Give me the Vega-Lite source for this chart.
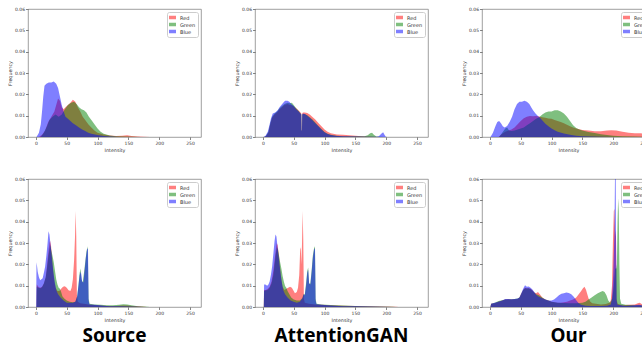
{
"$schema":"https://vega.github.io/schema/vega-lite/v6.json",
"background":"white",
"padding":{"left":6,"top":5,"right":0,"bottom":0},
"data":{"values":[
{"p":1,"c":"Red","x":5,"y":0},{"p":1,"c":"Red","x":10,"y":0.001},{"p":1,"c":"Red","x":15,"y":0.003},{"p":1,"c":"Red","x":20,"y":0.007},{"p":1,"c":"Red","x":25,"y":0.0095},{"p":1,"c":"Red","x":30,"y":0.012},{"p":1,"c":"Red","x":33,"y":0.015},{"p":1,"c":"Red","x":36,"y":0.018},{"p":1,"c":"Red","x":39,"y":0.017},{"p":1,"c":"Red","x":42,"y":0.014},{"p":1,"c":"Red","x":45,"y":0.013},{"p":1,"c":"Red","x":48,"y":0.014},{"p":1,"c":"Red","x":52,"y":0.015},{"p":1,"c":"Red","x":56,"y":0.016},{"p":1,"c":"Red","x":60,"y":0.0175},{"p":1,"c":"Red","x":64,"y":0.0165},{"p":1,"c":"Red","x":68,"y":0.014},{"p":1,"c":"Red","x":72,"y":0.012},{"p":1,"c":"Red","x":76,"y":0.0095},{"p":1,"c":"Red","x":80,"y":0.008},{"p":1,"c":"Red","x":85,"y":0.006},{"p":1,"c":"Red","x":90,"y":0.0045},{"p":1,"c":"Red","x":95,"y":0.003},{"p":1,"c":"Red","x":100,"y":0.002},{"p":1,"c":"Red","x":110,"y":0.0012},{"p":1,"c":"Red","x":120,"y":0.0007},{"p":1,"c":"Red","x":130,"y":0.0005},{"p":1,"c":"Red","x":140,"y":0.0006},{"p":1,"c":"Red","x":148,"y":0.0008},{"p":1,"c":"Red","x":155,"y":0.0005},{"p":1,"c":"Red","x":165,"y":0.0002},{"p":1,"c":"Red","x":175,"y":0.0001},{"p":1,"c":"Red","x":185,"y":0},
{"p":1,"c":"Green","x":8,"y":0},{"p":1,"c":"Green","x":13,"y":0.002},{"p":1,"c":"Green","x":18,"y":0.005},{"p":1,"c":"Green","x":22,"y":0.008},{"p":1,"c":"Green","x":27,"y":0.0095},{"p":1,"c":"Green","x":32,"y":0.0105},{"p":1,"c":"Green","x":37,"y":0.0095},{"p":1,"c":"Green","x":42,"y":0.0105},{"p":1,"c":"Green","x":47,"y":0.013},{"p":1,"c":"Green","x":52,"y":0.015},{"p":1,"c":"Green","x":57,"y":0.016},{"p":1,"c":"Green","x":62,"y":0.0165},{"p":1,"c":"Green","x":66,"y":0.0155},{"p":1,"c":"Green","x":70,"y":0.014},{"p":1,"c":"Green","x":74,"y":0.013},{"p":1,"c":"Green","x":78,"y":0.0125},{"p":1,"c":"Green","x":82,"y":0.0115},{"p":1,"c":"Green","x":86,"y":0.0095},{"p":1,"c":"Green","x":90,"y":0.008},{"p":1,"c":"Green","x":95,"y":0.006},{"p":1,"c":"Green","x":100,"y":0.004},{"p":1,"c":"Green","x":105,"y":0.0025},{"p":1,"c":"Green","x":110,"y":0.0015},{"p":1,"c":"Green","x":120,"y":0.0007},{"p":1,"c":"Green","x":130,"y":0.0004},{"p":1,"c":"Green","x":145,"y":0.0002},{"p":1,"c":"Green","x":160,"y":0.0001},{"p":1,"c":"Green","x":170,"y":0},
{"p":1,"c":"Blue","x":1,"y":0},{"p":1,"c":"Blue","x":5,"y":0.002},{"p":1,"c":"Blue","x":8,"y":0.006},{"p":1,"c":"Blue","x":10,"y":0.012},{"p":1,"c":"Blue","x":12,"y":0.019},{"p":1,"c":"Blue","x":14,"y":0.024},{"p":1,"c":"Blue","x":17,"y":0.025},{"p":1,"c":"Blue","x":21,"y":0.0255},{"p":1,"c":"Blue","x":25,"y":0.0255},{"p":1,"c":"Blue","x":29,"y":0.026},{"p":1,"c":"Blue","x":33,"y":0.025},{"p":1,"c":"Blue","x":36,"y":0.023},{"p":1,"c":"Blue","x":39,"y":0.019},{"p":1,"c":"Blue","x":42,"y":0.015},{"p":1,"c":"Blue","x":45,"y":0.012},{"p":1,"c":"Blue","x":48,"y":0.0095},{"p":1,"c":"Blue","x":52,"y":0.0085},{"p":1,"c":"Blue","x":56,"y":0.0075},{"p":1,"c":"Blue","x":60,"y":0.0065},{"p":1,"c":"Blue","x":65,"y":0.0055},{"p":1,"c":"Blue","x":70,"y":0.0045},{"p":1,"c":"Blue","x":75,"y":0.0035},{"p":1,"c":"Blue","x":80,"y":0.0028},{"p":1,"c":"Blue","x":85,"y":0.002},{"p":1,"c":"Blue","x":90,"y":0.0015},{"p":1,"c":"Blue","x":100,"y":0.0009},{"p":1,"c":"Blue","x":110,"y":0.0005},{"p":1,"c":"Blue","x":120,"y":0.0002},{"p":1,"c":"Blue","x":135,"y":0},
{"p":2,"c":"Red","x":2,"y":0},{"p":2,"c":"Red","x":5,"y":0.0004},{"p":2,"c":"Red","x":9,"y":0.002},{"p":2,"c":"Red","x":12,"y":0.006},{"p":2,"c":"Red","x":15,"y":0.009},{"p":2,"c":"Red","x":19,"y":0.0105},{"p":2,"c":"Red","x":23,"y":0.0115},{"p":2,"c":"Red","x":27,"y":0.013},{"p":2,"c":"Red","x":31,"y":0.014},{"p":2,"c":"Red","x":35,"y":0.015},{"p":2,"c":"Red","x":40,"y":0.0155},{"p":2,"c":"Red","x":44,"y":0.015},{"p":2,"c":"Red","x":48,"y":0.0148},{"p":2,"c":"Red","x":52,"y":0.014},{"p":2,"c":"Red","x":56,"y":0.013},{"p":2,"c":"Red","x":60,"y":0.0118},{"p":2,"c":"Red","x":62.4,"y":0.011},{"p":2,"c":"Red","x":62.8,"y":0.003},{"p":2,"c":"Red","x":63.4,"y":0.003},{"p":2,"c":"Red","x":63.8,"y":0.011},{"p":2,"c":"Red","x":65,"y":0.0115},{"p":2,"c":"Red","x":68,"y":0.0115},{"p":2,"c":"Red","x":72,"y":0.0112},{"p":2,"c":"Red","x":76,"y":0.0105},{"p":2,"c":"Red","x":80,"y":0.0095},{"p":2,"c":"Red","x":85,"y":0.0082},{"p":2,"c":"Red","x":90,"y":0.0066},{"p":2,"c":"Red","x":95,"y":0.005},{"p":2,"c":"Red","x":100,"y":0.0035},{"p":2,"c":"Red","x":105,"y":0.0025},{"p":2,"c":"Red","x":110,"y":0.0017},{"p":2,"c":"Red","x":120,"y":0.0012},{"p":2,"c":"Red","x":130,"y":0.001},{"p":2,"c":"Red","x":140,"y":0.0008},{"p":2,"c":"Red","x":150,"y":0.0006},{"p":2,"c":"Red","x":160,"y":0.0004},{"p":2,"c":"Red","x":170,"y":0.0002},{"p":2,"c":"Red","x":180,"y":0.0001},{"p":2,"c":"Red","x":190,"y":0},
{"p":2,"c":"Green","x":2,"y":0},{"p":2,"c":"Green","x":5,"y":0.0005},{"p":2,"c":"Green","x":9,"y":0.0025},{"p":2,"c":"Green","x":12,"y":0.0065},{"p":2,"c":"Green","x":15,"y":0.0095},{"p":2,"c":"Green","x":19,"y":0.011},{"p":2,"c":"Green","x":23,"y":0.012},{"p":2,"c":"Green","x":27,"y":0.0135},{"p":2,"c":"Green","x":31,"y":0.0145},{"p":2,"c":"Green","x":35,"y":0.0155},{"p":2,"c":"Green","x":40,"y":0.016},{"p":2,"c":"Green","x":44,"y":0.0158},{"p":2,"c":"Green","x":47,"y":0.016},{"p":2,"c":"Green","x":50,"y":0.015},{"p":2,"c":"Green","x":54,"y":0.0135},{"p":2,"c":"Green","x":58,"y":0.0122},{"p":2,"c":"Green","x":62.4,"y":0.0105},{"p":2,"c":"Green","x":62.8,"y":0.003},{"p":2,"c":"Green","x":63.4,"y":0.003},{"p":2,"c":"Green","x":63.8,"y":0.0105},{"p":2,"c":"Green","x":65,"y":0.0108},{"p":2,"c":"Green","x":68,"y":0.0108},{"p":2,"c":"Green","x":72,"y":0.0102},{"p":2,"c":"Green","x":76,"y":0.0093},{"p":2,"c":"Green","x":80,"y":0.0083},{"p":2,"c":"Green","x":85,"y":0.0068},{"p":2,"c":"Green","x":90,"y":0.0052},{"p":2,"c":"Green","x":95,"y":0.0037},{"p":2,"c":"Green","x":100,"y":0.0024},{"p":2,"c":"Green","x":105,"y":0.0015},{"p":2,"c":"Green","x":110,"y":0.001},{"p":2,"c":"Green","x":120,"y":0.0006},{"p":2,"c":"Green","x":130,"y":0.0004},{"p":2,"c":"Green","x":150,"y":0.0003},{"p":2,"c":"Green","x":165,"y":0.0003},{"p":2,"c":"Green","x":170,"y":0.0008},{"p":2,"c":"Green","x":174,"y":0.0018},{"p":2,"c":"Green","x":177,"y":0.002},{"p":2,"c":"Green","x":180,"y":0.001},{"p":2,"c":"Green","x":184,"y":0.0002},{"p":2,"c":"Green","x":190,"y":0.0001},{"p":2,"c":"Green","x":195,"y":0},
{"p":2,"c":"Blue","x":1,"y":0},{"p":2,"c":"Blue","x":4,"y":0.0005},{"p":2,"c":"Blue","x":8,"y":0.0025},{"p":2,"c":"Blue","x":11,"y":0.006},{"p":2,"c":"Blue","x":13,"y":0.0085},{"p":2,"c":"Blue","x":16,"y":0.011},{"p":2,"c":"Blue","x":20,"y":0.0115},{"p":2,"c":"Blue","x":24,"y":0.0125},{"p":2,"c":"Blue","x":27,"y":0.014},{"p":2,"c":"Blue","x":30,"y":0.015},{"p":2,"c":"Blue","x":33,"y":0.016},{"p":2,"c":"Blue","x":36,"y":0.017},{"p":2,"c":"Blue","x":40,"y":0.017},{"p":2,"c":"Blue","x":43,"y":0.0165},{"p":2,"c":"Blue","x":46,"y":0.0155},{"p":2,"c":"Blue","x":50,"y":0.0145},{"p":2,"c":"Blue","x":54,"y":0.013},{"p":2,"c":"Blue","x":58,"y":0.012},{"p":2,"c":"Blue","x":62.4,"y":0.0105},{"p":2,"c":"Blue","x":62.8,"y":0.003},{"p":2,"c":"Blue","x":63.4,"y":0.003},{"p":2,"c":"Blue","x":63.8,"y":0.0105},{"p":2,"c":"Blue","x":65,"y":0.011},{"p":2,"c":"Blue","x":68,"y":0.0108},{"p":2,"c":"Blue","x":72,"y":0.01},{"p":2,"c":"Blue","x":76,"y":0.009},{"p":2,"c":"Blue","x":80,"y":0.008},{"p":2,"c":"Blue","x":85,"y":0.0065},{"p":2,"c":"Blue","x":90,"y":0.005},{"p":2,"c":"Blue","x":95,"y":0.0035},{"p":2,"c":"Blue","x":100,"y":0.0022},{"p":2,"c":"Blue","x":105,"y":0.0014},{"p":2,"c":"Blue","x":110,"y":0.0009},{"p":2,"c":"Blue","x":120,"y":0.0005},{"p":2,"c":"Blue","x":130,"y":0.0003},{"p":2,"c":"Blue","x":150,"y":0.0002},{"p":2,"c":"Blue","x":170,"y":0.0001},{"p":2,"c":"Blue","x":185,"y":0.0001},{"p":2,"c":"Blue","x":188,"y":0.0004},{"p":2,"c":"Blue","x":192,"y":0.0015},{"p":2,"c":"Blue","x":195,"y":0.0022},{"p":2,"c":"Blue","x":197,"y":0.0012},{"p":2,"c":"Blue","x":199,"y":0.0002},{"p":2,"c":"Blue","x":201,"y":0},
{"p":3,"c":"Red","x":14,"y":0},{"p":3,"c":"Red","x":20,"y":0.0015},{"p":3,"c":"Red","x":25,"y":0.0025},{"p":3,"c":"Red","x":30,"y":0.003},{"p":3,"c":"Red","x":35,"y":0.0035},{"p":3,"c":"Red","x":40,"y":0.0045},{"p":3,"c":"Red","x":45,"y":0.006},{"p":3,"c":"Red","x":50,"y":0.0075},{"p":3,"c":"Red","x":55,"y":0.0088},{"p":3,"c":"Red","x":60,"y":0.0095},{"p":3,"c":"Red","x":65,"y":0.0098},{"p":3,"c":"Red","x":70,"y":0.0097},{"p":3,"c":"Red","x":75,"y":0.0098},{"p":3,"c":"Red","x":80,"y":0.0096},{"p":3,"c":"Red","x":85,"y":0.0093},{"p":3,"c":"Red","x":90,"y":0.009},{"p":3,"c":"Red","x":95,"y":0.0087},{"p":3,"c":"Red","x":100,"y":0.0085},{"p":3,"c":"Red","x":105,"y":0.008},{"p":3,"c":"Red","x":110,"y":0.0075},{"p":3,"c":"Red","x":115,"y":0.007},{"p":3,"c":"Red","x":120,"y":0.0064},{"p":3,"c":"Red","x":125,"y":0.0058},{"p":3,"c":"Red","x":130,"y":0.005},{"p":3,"c":"Red","x":135,"y":0.0044},{"p":3,"c":"Red","x":140,"y":0.004},{"p":3,"c":"Red","x":145,"y":0.0036},{"p":3,"c":"Red","x":150,"y":0.0033},{"p":3,"c":"Red","x":160,"y":0.003},{"p":3,"c":"Red","x":170,"y":0.0027},{"p":3,"c":"Red","x":180,"y":0.0027},{"p":3,"c":"Red","x":190,"y":0.003},{"p":3,"c":"Red","x":197,"y":0.0032},{"p":3,"c":"Red","x":205,"y":0.003},{"p":3,"c":"Red","x":215,"y":0.0025},{"p":3,"c":"Red","x":225,"y":0.002},{"p":3,"c":"Red","x":235,"y":0.0018},{"p":3,"c":"Red","x":245,"y":0.0017},{"p":3,"c":"Red","x":255,"y":0.0015},{"p":3,"c":"Red","x":256,"y":0},
{"p":3,"c":"Green","x":15,"y":0},{"p":3,"c":"Green","x":20,"y":0.002},{"p":3,"c":"Green","x":25,"y":0.004},{"p":3,"c":"Green","x":28,"y":0.0045},{"p":3,"c":"Green","x":31,"y":0.003},{"p":3,"c":"Green","x":35,"y":0.0028},{"p":3,"c":"Green","x":40,"y":0.003},{"p":3,"c":"Green","x":45,"y":0.0035},{"p":3,"c":"Green","x":50,"y":0.004},{"p":3,"c":"Green","x":55,"y":0.0045},{"p":3,"c":"Green","x":60,"y":0.0055},{"p":3,"c":"Green","x":65,"y":0.0065},{"p":3,"c":"Green","x":70,"y":0.0075},{"p":3,"c":"Green","x":75,"y":0.0085},{"p":3,"c":"Green","x":80,"y":0.0092},{"p":3,"c":"Green","x":85,"y":0.0105},{"p":3,"c":"Green","x":90,"y":0.0115},{"p":3,"c":"Green","x":95,"y":0.012},{"p":3,"c":"Green","x":100,"y":0.012},{"p":3,"c":"Green","x":105,"y":0.0125},{"p":3,"c":"Green","x":110,"y":0.0125},{"p":3,"c":"Green","x":115,"y":0.012},{"p":3,"c":"Green","x":120,"y":0.011},{"p":3,"c":"Green","x":125,"y":0.0095},{"p":3,"c":"Green","x":130,"y":0.0075},{"p":3,"c":"Green","x":135,"y":0.0055},{"p":3,"c":"Green","x":140,"y":0.0042},{"p":3,"c":"Green","x":145,"y":0.0035},{"p":3,"c":"Green","x":150,"y":0.003},{"p":3,"c":"Green","x":160,"y":0.0024},{"p":3,"c":"Green","x":170,"y":0.0019},{"p":3,"c":"Green","x":180,"y":0.0013},{"p":3,"c":"Green","x":190,"y":0.0009},{"p":3,"c":"Green","x":200,"y":0.0006},{"p":3,"c":"Green","x":215,"y":0.0004},{"p":3,"c":"Green","x":235,"y":0.0002},{"p":3,"c":"Green","x":255,"y":0.0001},{"p":3,"c":"Green","x":256,"y":0},
{"p":3,"c":"Blue","x":1,"y":0},{"p":3,"c":"Blue","x":5,"y":0.002},{"p":3,"c":"Blue","x":9,"y":0.005},{"p":3,"c":"Blue","x":12,"y":0.007},{"p":3,"c":"Blue","x":15,"y":0.0075},{"p":3,"c":"Blue","x":18,"y":0.0065},{"p":3,"c":"Blue","x":21,"y":0.005},{"p":3,"c":"Blue","x":24,"y":0.0045},{"p":3,"c":"Blue","x":28,"y":0.0052},{"p":3,"c":"Blue","x":32,"y":0.007},{"p":3,"c":"Blue","x":36,"y":0.0095},{"p":3,"c":"Blue","x":40,"y":0.013},{"p":3,"c":"Blue","x":44,"y":0.0155},{"p":3,"c":"Blue","x":48,"y":0.0165},{"p":3,"c":"Blue","x":52,"y":0.0165},{"p":3,"c":"Blue","x":56,"y":0.017},{"p":3,"c":"Blue","x":60,"y":0.0165},{"p":3,"c":"Blue","x":64,"y":0.0155},{"p":3,"c":"Blue","x":67,"y":0.014},{"p":3,"c":"Blue","x":70,"y":0.0125},{"p":3,"c":"Blue","x":74,"y":0.011},{"p":3,"c":"Blue","x":78,"y":0.0098},{"p":3,"c":"Blue","x":82,"y":0.0088},{"p":3,"c":"Blue","x":86,"y":0.0075},{"p":3,"c":"Blue","x":90,"y":0.0062},{"p":3,"c":"Blue","x":95,"y":0.005},{"p":3,"c":"Blue","x":100,"y":0.004},{"p":3,"c":"Blue","x":105,"y":0.0032},{"p":3,"c":"Blue","x":110,"y":0.0025},{"p":3,"c":"Blue","x":120,"y":0.0016},{"p":3,"c":"Blue","x":130,"y":0.001},{"p":3,"c":"Blue","x":140,"y":0.0006},{"p":3,"c":"Blue","x":150,"y":0.0004},{"p":3,"c":"Blue","x":165,"y":0.0002},{"p":3,"c":"Blue","x":180,"y":0.0001},{"p":3,"c":"Blue","x":200,"y":0},
{"p":4,"c":"Red","x":1,"y":0},{"p":4,"c":"Red","x":1.5,"y":0.0105},{"p":4,"c":"Red","x":4,"y":0.0095},{"p":4,"c":"Red","x":7,"y":0.009},{"p":4,"c":"Red","x":10,"y":0.0095},{"p":4,"c":"Red","x":13,"y":0.011},{"p":4,"c":"Red","x":16,"y":0.014},{"p":4,"c":"Red","x":18,"y":0.019},{"p":4,"c":"Red","x":20,"y":0.025},{"p":4,"c":"Red","x":22,"y":0.03},{"p":4,"c":"Red","x":23,"y":0.031},{"p":4,"c":"Red","x":24.5,"y":0.029},{"p":4,"c":"Red","x":26,"y":0.024},{"p":4,"c":"Red","x":28,"y":0.017},{"p":4,"c":"Red","x":30,"y":0.012},{"p":4,"c":"Red","x":32,"y":0.009},{"p":4,"c":"Red","x":35,"y":0.0075},{"p":4,"c":"Red","x":38,"y":0.0075},{"p":4,"c":"Red","x":41,"y":0.0085},{"p":4,"c":"Red","x":44,"y":0.0095},{"p":4,"c":"Red","x":47,"y":0.0097},{"p":4,"c":"Red","x":50,"y":0.009},{"p":4,"c":"Red","x":53,"y":0.0078},{"p":4,"c":"Red","x":56,"y":0.0075},{"p":4,"c":"Red","x":58,"y":0.009},{"p":4,"c":"Red","x":60,"y":0.013},{"p":4,"c":"Red","x":62,"y":0.022},{"p":4,"c":"Red","x":63.5,"y":0.033},{"p":4,"c":"Red","x":64.5,"y":0.045},{"p":4,"c":"Red","x":65.5,"y":0.033},{"p":4,"c":"Red","x":66.5,"y":0.006},{"p":4,"c":"Red","x":68,"y":0.0025},{"p":4,"c":"Red","x":72,"y":0.0018},{"p":4,"c":"Red","x":78,"y":0.0015},{"p":4,"c":"Red","x":85,"y":0.0012},{"p":4,"c":"Red","x":90,"y":0.001},{"p":4,"c":"Red","x":100,"y":0.0008},{"p":4,"c":"Red","x":110,"y":0.0006},{"p":4,"c":"Red","x":120,"y":0.0005},{"p":4,"c":"Red","x":130,"y":0.0005},{"p":4,"c":"Red","x":140,"y":0.0007},{"p":4,"c":"Red","x":148,"y":0.0007},{"p":4,"c":"Red","x":155,"y":0.0005},{"p":4,"c":"Red","x":165,"y":0.0003},{"p":4,"c":"Red","x":175,"y":0.0001},{"p":4,"c":"Red","x":180,"y":0},
{"p":4,"c":"Green","x":1,"y":0},{"p":4,"c":"Green","x":1.5,"y":0.0095},{"p":4,"c":"Green","x":4,"y":0.009},{"p":4,"c":"Green","x":7,"y":0.0088},{"p":4,"c":"Green","x":10,"y":0.0093},{"p":4,"c":"Green","x":13,"y":0.011},{"p":4,"c":"Green","x":16,"y":0.014},{"p":4,"c":"Green","x":18,"y":0.018},{"p":4,"c":"Green","x":20,"y":0.023},{"p":4,"c":"Green","x":22,"y":0.027},{"p":4,"c":"Green","x":23.5,"y":0.029},{"p":4,"c":"Green","x":25,"y":0.0265},{"p":4,"c":"Green","x":27,"y":0.024},{"p":4,"c":"Green","x":29,"y":0.021},{"p":4,"c":"Green","x":31,"y":0.017},{"p":4,"c":"Green","x":33,"y":0.013},{"p":4,"c":"Green","x":35,"y":0.0105},{"p":4,"c":"Green","x":37,"y":0.009},{"p":4,"c":"Green","x":39,"y":0.0085},{"p":4,"c":"Green","x":41,"y":0.007},{"p":4,"c":"Green","x":43,"y":0.005},{"p":4,"c":"Green","x":46,"y":0.004},{"p":4,"c":"Green","x":50,"y":0.003},{"p":4,"c":"Green","x":55,"y":0.0025},{"p":4,"c":"Green","x":60,"y":0.0022},{"p":4,"c":"Green","x":64,"y":0.0025},{"p":4,"c":"Green","x":67,"y":0.005},{"p":4,"c":"Green","x":69,"y":0.01},{"p":4,"c":"Green","x":71,"y":0.016},{"p":4,"c":"Green","x":72.5,"y":0.018},{"p":4,"c":"Green","x":74,"y":0.013},{"p":4,"c":"Green","x":76,"y":0.0115},{"p":4,"c":"Green","x":78,"y":0.016},{"p":4,"c":"Green","x":80,"y":0.021},{"p":4,"c":"Green","x":82,"y":0.026},{"p":4,"c":"Green","x":84,"y":0.0285},{"p":4,"c":"Green","x":85.5,"y":0.004},{"p":4,"c":"Green","x":87,"y":0.0015},{"p":4,"c":"Green","x":95,"y":0.0012},{"p":4,"c":"Green","x":105,"y":0.001},{"p":4,"c":"Green","x":115,"y":0.0008},{"p":4,"c":"Green","x":125,"y":0.0008},{"p":4,"c":"Green","x":135,"y":0.0011},{"p":4,"c":"Green","x":142,"y":0.0013},{"p":4,"c":"Green","x":148,"y":0.0012},{"p":4,"c":"Green","x":155,"y":0.0008},{"p":4,"c":"Green","x":165,"y":0.0004},{"p":4,"c":"Green","x":175,"y":0.0002},{"p":4,"c":"Green","x":185,"y":0},
{"p":4,"c":"Blue","x":0.5,"y":0},{"p":4,"c":"Blue","x":1,"y":0.021},{"p":4,"c":"Blue","x":2,"y":0.019},{"p":4,"c":"Blue","x":3,"y":0.0165},{"p":4,"c":"Blue","x":5,"y":0.014},{"p":4,"c":"Blue","x":7,"y":0.0125},{"p":4,"c":"Blue","x":9,"y":0.013},{"p":4,"c":"Blue","x":11,"y":0.0135},{"p":4,"c":"Blue","x":13,"y":0.016},{"p":4,"c":"Blue","x":15,"y":0.019},{"p":4,"c":"Blue","x":17,"y":0.024},{"p":4,"c":"Blue","x":19,"y":0.03},{"p":4,"c":"Blue","x":20.5,"y":0.0355},{"p":4,"c":"Blue","x":22,"y":0.034},{"p":4,"c":"Blue","x":23.5,"y":0.03},{"p":4,"c":"Blue","x":25,"y":0.026},{"p":4,"c":"Blue","x":27,"y":0.02},{"p":4,"c":"Blue","x":29,"y":0.015},{"p":4,"c":"Blue","x":31,"y":0.011},{"p":4,"c":"Blue","x":33,"y":0.008},{"p":4,"c":"Blue","x":36,"y":0.006},{"p":4,"c":"Blue","x":40,"y":0.0045},{"p":4,"c":"Blue","x":45,"y":0.003},{"p":4,"c":"Blue","x":50,"y":0.002},{"p":4,"c":"Blue","x":55,"y":0.002},{"p":4,"c":"Blue","x":60,"y":0.002},{"p":4,"c":"Blue","x":64,"y":0.0025},{"p":4,"c":"Blue","x":67,"y":0.005},{"p":4,"c":"Blue","x":69,"y":0.01},{"p":4,"c":"Blue","x":71,"y":0.015},{"p":4,"c":"Blue","x":73,"y":0.0165},{"p":4,"c":"Blue","x":75,"y":0.012},{"p":4,"c":"Blue","x":77,"y":0.0115},{"p":4,"c":"Blue","x":79,"y":0.017},{"p":4,"c":"Blue","x":81,"y":0.023},{"p":4,"c":"Blue","x":83,"y":0.027},{"p":4,"c":"Blue","x":84.5,"y":0.0275},{"p":4,"c":"Blue","x":85.5,"y":0.003},{"p":4,"c":"Blue","x":87,"y":0.0012},{"p":4,"c":"Blue","x":95,"y":0.001},{"p":4,"c":"Blue","x":100,"y":0.0009},{"p":4,"c":"Blue","x":110,"y":0.0006},{"p":4,"c":"Blue","x":120,"y":0.0004},{"p":4,"c":"Blue","x":135,"y":0.0003},{"p":4,"c":"Blue","x":150,"y":0.0002},{"p":4,"c":"Blue","x":165,"y":0.0001},{"p":4,"c":"Blue","x":175,"y":0},
{"p":5,"c":"Red","x":1.5,"y":0},{"p":5,"c":"Red","x":2,"y":0.008},{"p":5,"c":"Red","x":5,"y":0.008},{"p":5,"c":"Red","x":8,"y":0.0085},{"p":5,"c":"Red","x":11,"y":0.0095},{"p":5,"c":"Red","x":14,"y":0.012},{"p":5,"c":"Red","x":17,"y":0.017},{"p":5,"c":"Red","x":19,"y":0.022},{"p":5,"c":"Red","x":21,"y":0.027},{"p":5,"c":"Red","x":22.5,"y":0.03},{"p":5,"c":"Red","x":24,"y":0.029},{"p":5,"c":"Red","x":26,"y":0.024},{"p":5,"c":"Red","x":28,"y":0.018},{"p":5,"c":"Red","x":30,"y":0.013},{"p":5,"c":"Red","x":32,"y":0.0095},{"p":5,"c":"Red","x":35,"y":0.008},{"p":5,"c":"Red","x":38,"y":0.0085},{"p":5,"c":"Red","x":41,"y":0.009},{"p":5,"c":"Red","x":44,"y":0.0095},{"p":5,"c":"Red","x":47,"y":0.009},{"p":5,"c":"Red","x":50,"y":0.0075},{"p":5,"c":"Red","x":52,"y":0.0065},{"p":5,"c":"Red","x":55,"y":0.007},{"p":5,"c":"Red","x":57,"y":0.009},{"p":5,"c":"Red","x":59,"y":0.015},{"p":5,"c":"Red","x":60.5,"y":0.027},{"p":5,"c":"Red","x":61.5,"y":0.028},{"p":5,"c":"Red","x":62.5,"y":0.02},{"p":5,"c":"Red","x":63.5,"y":0.03},{"p":5,"c":"Red","x":64.5,"y":0.045},{"p":5,"c":"Red","x":65.5,"y":0.032},{"p":5,"c":"Red","x":66.5,"y":0.004},{"p":5,"c":"Red","x":68,"y":0.002},{"p":5,"c":"Red","x":75,"y":0.0015},{"p":5,"c":"Red","x":85,"y":0.0012},{"p":5,"c":"Red","x":95,"y":0.001},{"p":5,"c":"Red","x":110,"y":0.0008},{"p":5,"c":"Red","x":130,"y":0.0006},{"p":5,"c":"Red","x":150,"y":0.0005},{"p":5,"c":"Red","x":170,"y":0.0003},{"p":5,"c":"Red","x":190,"y":0.0002},{"p":5,"c":"Red","x":215,"y":0.0001},{"p":5,"c":"Red","x":220,"y":0},
{"p":5,"c":"Green","x":1.5,"y":0},{"p":5,"c":"Green","x":2,"y":0.0075},{"p":5,"c":"Green","x":5,"y":0.0078},{"p":5,"c":"Green","x":8,"y":0.008},{"p":5,"c":"Green","x":11,"y":0.009},{"p":5,"c":"Green","x":14,"y":0.011},{"p":5,"c":"Green","x":17,"y":0.015},{"p":5,"c":"Green","x":19,"y":0.02},{"p":5,"c":"Green","x":21,"y":0.025},{"p":5,"c":"Green","x":23,"y":0.028},{"p":5,"c":"Green","x":24.5,"y":0.027},{"p":5,"c":"Green","x":26,"y":0.0245},{"p":5,"c":"Green","x":28,"y":0.021},{"p":5,"c":"Green","x":30,"y":0.018},{"p":5,"c":"Green","x":32,"y":0.0145},{"p":5,"c":"Green","x":34,"y":0.012},{"p":5,"c":"Green","x":36,"y":0.0098},{"p":5,"c":"Green","x":38,"y":0.009},{"p":5,"c":"Green","x":40,"y":0.0075},{"p":5,"c":"Green","x":43,"y":0.006},{"p":5,"c":"Green","x":46,"y":0.0045},{"p":5,"c":"Green","x":50,"y":0.0035},{"p":5,"c":"Green","x":55,"y":0.003},{"p":5,"c":"Green","x":60,"y":0.003},{"p":5,"c":"Green","x":64,"y":0.0042},{"p":5,"c":"Green","x":66,"y":0.006},{"p":5,"c":"Green","x":68,"y":0.006},{"p":5,"c":"Green","x":70,"y":0.011},{"p":5,"c":"Green","x":72,"y":0.017},{"p":5,"c":"Green","x":73.5,"y":0.0185},{"p":5,"c":"Green","x":75,"y":0.011},{"p":5,"c":"Green","x":77,"y":0.011},{"p":5,"c":"Green","x":79,"y":0.017},{"p":5,"c":"Green","x":81,"y":0.024},{"p":5,"c":"Green","x":83,"y":0.0275},{"p":5,"c":"Green","x":84.5,"y":0.0285},{"p":5,"c":"Green","x":85.5,"y":0.004},{"p":5,"c":"Green","x":87,"y":0.0015},{"p":5,"c":"Green","x":95,"y":0.0012},{"p":5,"c":"Green","x":110,"y":0.0009},{"p":5,"c":"Green","x":130,"y":0.0007},{"p":5,"c":"Green","x":150,"y":0.0005},{"p":5,"c":"Green","x":170,"y":0.0003},{"p":5,"c":"Green","x":190,"y":0.0002},{"p":5,"c":"Green","x":210,"y":0.0001},{"p":5,"c":"Green","x":215,"y":0},
{"p":5,"c":"Blue","x":1.5,"y":0},{"p":5,"c":"Blue","x":2,"y":0.0105},{"p":5,"c":"Blue","x":4,"y":0.0105},{"p":5,"c":"Blue","x":7,"y":0.01},{"p":5,"c":"Blue","x":9,"y":0.0105},{"p":5,"c":"Blue","x":11,"y":0.012},{"p":5,"c":"Blue","x":13,"y":0.015},{"p":5,"c":"Blue","x":15,"y":0.019},{"p":5,"c":"Blue","x":17,"y":0.025},{"p":5,"c":"Blue","x":19,"y":0.031},{"p":5,"c":"Blue","x":20.5,"y":0.034},{"p":5,"c":"Blue","x":22,"y":0.033},{"p":5,"c":"Blue","x":23.5,"y":0.029},{"p":5,"c":"Blue","x":25,"y":0.025},{"p":5,"c":"Blue","x":27,"y":0.02},{"p":5,"c":"Blue","x":29,"y":0.015},{"p":5,"c":"Blue","x":31,"y":0.011},{"p":5,"c":"Blue","x":33,"y":0.008},{"p":5,"c":"Blue","x":36,"y":0.006},{"p":5,"c":"Blue","x":40,"y":0.0045},{"p":5,"c":"Blue","x":45,"y":0.003},{"p":5,"c":"Blue","x":50,"y":0.0025},{"p":5,"c":"Blue","x":55,"y":0.002},{"p":5,"c":"Blue","x":60,"y":0.0025},{"p":5,"c":"Blue","x":64,"y":0.004},{"p":5,"c":"Blue","x":66,"y":0.006},{"p":5,"c":"Blue","x":68,"y":0.0055},{"p":5,"c":"Blue","x":70,"y":0.01},{"p":5,"c":"Blue","x":72,"y":0.016},{"p":5,"c":"Blue","x":73.5,"y":0.0175},{"p":5,"c":"Blue","x":75,"y":0.011},{"p":5,"c":"Blue","x":77,"y":0.0105},{"p":5,"c":"Blue","x":79,"y":0.016},{"p":5,"c":"Blue","x":81,"y":0.023},{"p":5,"c":"Blue","x":83,"y":0.027},{"p":5,"c":"Blue","x":84.5,"y":0.0275},{"p":5,"c":"Blue","x":85.5,"y":0.003},{"p":5,"c":"Blue","x":87,"y":0.0013},{"p":5,"c":"Blue","x":95,"y":0.001},{"p":5,"c":"Blue","x":110,"y":0.0007},{"p":5,"c":"Blue","x":130,"y":0.0004},{"p":5,"c":"Blue","x":150,"y":0.0003},{"p":5,"c":"Blue","x":170,"y":0.0002},{"p":5,"c":"Blue","x":190,"y":0.0001},{"p":5,"c":"Blue","x":210,"y":0},
{"p":6,"c":"Red","x":1,"y":0},{"p":6,"c":"Red","x":2,"y":0.0015},{"p":6,"c":"Red","x":8,"y":0.0018},{"p":6,"c":"Red","x":14,"y":0.0025},{"p":6,"c":"Red","x":20,"y":0.003},{"p":6,"c":"Red","x":25,"y":0.0035},{"p":6,"c":"Red","x":30,"y":0.0036},{"p":6,"c":"Red","x":35,"y":0.0035},{"p":6,"c":"Red","x":40,"y":0.0036},{"p":6,"c":"Red","x":45,"y":0.0038},{"p":6,"c":"Red","x":48,"y":0.0045},{"p":6,"c":"Red","x":51,"y":0.0063},{"p":6,"c":"Red","x":54,"y":0.008},{"p":6,"c":"Red","x":57,"y":0.009},{"p":6,"c":"Red","x":60,"y":0.0088},{"p":6,"c":"Red","x":63,"y":0.0088},{"p":6,"c":"Red","x":66,"y":0.0085},{"p":6,"c":"Red","x":69,"y":0.0078},{"p":6,"c":"Red","x":72,"y":0.0068},{"p":6,"c":"Red","x":75,"y":0.0065},{"p":6,"c":"Red","x":78,"y":0.007},{"p":6,"c":"Red","x":81,"y":0.006},{"p":6,"c":"Red","x":85,"y":0.0045},{"p":6,"c":"Red","x":90,"y":0.0035},{"p":6,"c":"Red","x":95,"y":0.003},{"p":6,"c":"Red","x":100,"y":0.0025},{"p":6,"c":"Red","x":105,"y":0.0022},{"p":6,"c":"Red","x":110,"y":0.002},{"p":6,"c":"Red","x":115,"y":0.002},{"p":6,"c":"Red","x":120,"y":0.0022},{"p":6,"c":"Red","x":125,"y":0.0025},{"p":6,"c":"Red","x":130,"y":0.003},{"p":6,"c":"Red","x":135,"y":0.0035},{"p":6,"c":"Red","x":140,"y":0.0045},{"p":6,"c":"Red","x":144,"y":0.006},{"p":6,"c":"Red","x":148,"y":0.0075},{"p":6,"c":"Red","x":151,"y":0.0088},{"p":6,"c":"Red","x":153.5,"y":0.0095},{"p":6,"c":"Red","x":156,"y":0.008},{"p":6,"c":"Red","x":158,"y":0.006},{"p":6,"c":"Red","x":160,"y":0.004},{"p":6,"c":"Red","x":163,"y":0.0025},{"p":6,"c":"Red","x":166,"y":0.0018},{"p":6,"c":"Red","x":172,"y":0.0015},{"p":6,"c":"Red","x":180,"y":0.0012},{"p":6,"c":"Red","x":188,"y":0.0014},{"p":6,"c":"Red","x":194,"y":0.002},{"p":6,"c":"Red","x":196,"y":0.003},{"p":6,"c":"Red","x":198,"y":0.01},{"p":6,"c":"Red","x":199.5,"y":0.03},{"p":6,"c":"Red","x":201,"y":0.045},{"p":6,"c":"Red","x":202,"y":0.046},{"p":6,"c":"Red","x":203,"y":0.036},{"p":6,"c":"Red","x":204.5,"y":0.033},{"p":6,"c":"Red","x":205.5,"y":0.004},{"p":6,"c":"Red","x":207,"y":0.0015},{"p":6,"c":"Red","x":215,"y":0.0008},{"p":6,"c":"Red","x":225,"y":0.001},{"p":6,"c":"Red","x":235,"y":0.0012},{"p":6,"c":"Red","x":240,"y":0.0018},{"p":6,"c":"Red","x":243,"y":0.002},{"p":6,"c":"Red","x":247,"y":0.0012},{"p":6,"c":"Red","x":252,"y":0.0005},{"p":6,"c":"Red","x":255,"y":0},
{"p":6,"c":"Green","x":1,"y":0},{"p":6,"c":"Green","x":2,"y":0.0015},{"p":6,"c":"Green","x":8,"y":0.002},{"p":6,"c":"Green","x":14,"y":0.0028},{"p":6,"c":"Green","x":20,"y":0.0032},{"p":6,"c":"Green","x":25,"y":0.0035},{"p":6,"c":"Green","x":30,"y":0.0036},{"p":6,"c":"Green","x":35,"y":0.0036},{"p":6,"c":"Green","x":40,"y":0.0037},{"p":6,"c":"Green","x":45,"y":0.004},{"p":6,"c":"Green","x":48,"y":0.0045},{"p":6,"c":"Green","x":51,"y":0.0062},{"p":6,"c":"Green","x":54,"y":0.008},{"p":6,"c":"Green","x":57,"y":0.0088},{"p":6,"c":"Green","x":60,"y":0.0087},{"p":6,"c":"Green","x":63,"y":0.0088},{"p":6,"c":"Green","x":66,"y":0.0083},{"p":6,"c":"Green","x":69,"y":0.0076},{"p":6,"c":"Green","x":72,"y":0.0068},{"p":6,"c":"Green","x":75,"y":0.006},{"p":6,"c":"Green","x":78,"y":0.0058},{"p":6,"c":"Green","x":82,"y":0.005},{"p":6,"c":"Green","x":86,"y":0.0042},{"p":6,"c":"Green","x":90,"y":0.0035},{"p":6,"c":"Green","x":95,"y":0.003},{"p":6,"c":"Green","x":100,"y":0.0025},{"p":6,"c":"Green","x":105,"y":0.0022},{"p":6,"c":"Green","x":110,"y":0.002},{"p":6,"c":"Green","x":120,"y":0.0019},{"p":6,"c":"Green","x":130,"y":0.0018},{"p":6,"c":"Green","x":140,"y":0.0018},{"p":6,"c":"Green","x":150,"y":0.002},{"p":6,"c":"Green","x":155,"y":0.0025},{"p":6,"c":"Green","x":160,"y":0.0035},{"p":6,"c":"Green","x":165,"y":0.0045},{"p":6,"c":"Green","x":170,"y":0.0055},{"p":6,"c":"Green","x":175,"y":0.0065},{"p":6,"c":"Green","x":180,"y":0.0072},{"p":6,"c":"Green","x":183,"y":0.0075},{"p":6,"c":"Green","x":186,"y":0.007},{"p":6,"c":"Green","x":189,"y":0.0055},{"p":6,"c":"Green","x":192,"y":0.003},{"p":6,"c":"Green","x":195,"y":0.002},{"p":6,"c":"Green","x":198.5,"y":0.004},{"p":6,"c":"Green","x":201,"y":0.01},{"p":6,"c":"Green","x":203,"y":0.018},{"p":6,"c":"Green","x":205,"y":0.018},{"p":6,"c":"Green","x":206,"y":0.02},{"p":6,"c":"Green","x":207,"y":0.04},{"p":6,"c":"Green","x":208,"y":0.051},{"p":6,"c":"Green","x":209,"y":0.045},{"p":6,"c":"Green","x":210,"y":0.02},{"p":6,"c":"Green","x":211,"y":0.004},{"p":6,"c":"Green","x":213,"y":0.0015},{"p":6,"c":"Green","x":220,"y":0.001},{"p":6,"c":"Green","x":235,"y":0.0008},{"p":6,"c":"Green","x":245,"y":0.0008},{"p":6,"c":"Green","x":255,"y":0.0005},{"p":6,"c":"Green","x":256,"y":0},
{"p":6,"c":"Blue","x":1,"y":0},{"p":6,"c":"Blue","x":2,"y":0.0015},{"p":6,"c":"Blue","x":8,"y":0.002},{"p":6,"c":"Blue","x":14,"y":0.0025},{"p":6,"c":"Blue","x":20,"y":0.003},{"p":6,"c":"Blue","x":25,"y":0.0037},{"p":6,"c":"Blue","x":30,"y":0.0038},{"p":6,"c":"Blue","x":35,"y":0.0036},{"p":6,"c":"Blue","x":40,"y":0.0037},{"p":6,"c":"Blue","x":45,"y":0.004},{"p":6,"c":"Blue","x":48,"y":0.0045},{"p":6,"c":"Blue","x":51,"y":0.0065},{"p":6,"c":"Blue","x":54,"y":0.0085},{"p":6,"c":"Blue","x":57,"y":0.0102},{"p":6,"c":"Blue","x":60,"y":0.0095},{"p":6,"c":"Blue","x":63,"y":0.0096},{"p":6,"c":"Blue","x":66,"y":0.009},{"p":6,"c":"Blue","x":69,"y":0.0082},{"p":6,"c":"Blue","x":72,"y":0.007},{"p":6,"c":"Blue","x":75,"y":0.0058},{"p":6,"c":"Blue","x":78,"y":0.005},{"p":6,"c":"Blue","x":82,"y":0.0045},{"p":6,"c":"Blue","x":86,"y":0.004},{"p":6,"c":"Blue","x":90,"y":0.0035},{"p":6,"c":"Blue","x":95,"y":0.003},{"p":6,"c":"Blue","x":100,"y":0.003},{"p":6,"c":"Blue","x":104,"y":0.0035},{"p":6,"c":"Blue","x":108,"y":0.0045},{"p":6,"c":"Blue","x":112,"y":0.0055},{"p":6,"c":"Blue","x":116,"y":0.0062},{"p":6,"c":"Blue","x":120,"y":0.0065},{"p":6,"c":"Blue","x":124,"y":0.0068},{"p":6,"c":"Blue","x":128,"y":0.0066},{"p":6,"c":"Blue","x":132,"y":0.006},{"p":6,"c":"Blue","x":136,"y":0.0048},{"p":6,"c":"Blue","x":140,"y":0.0032},{"p":6,"c":"Blue","x":144,"y":0.0018},{"p":6,"c":"Blue","x":148,"y":0.001},{"p":6,"c":"Blue","x":155,"y":0.0006},{"p":6,"c":"Blue","x":165,"y":0.0005},{"p":6,"c":"Blue","x":180,"y":0.0005},{"p":6,"c":"Blue","x":190,"y":0.0006},{"p":6,"c":"Blue","x":196,"y":0.0012},{"p":6,"c":"Blue","x":198,"y":0.004},{"p":6,"c":"Blue","x":200,"y":0.015},{"p":6,"c":"Blue","x":202,"y":0.035},{"p":6,"c":"Blue","x":203,"y":0.065},{"p":6,"c":"Blue","x":204,"y":0.065},{"p":6,"c":"Blue","x":204.5,"y":0.034},{"p":6,"c":"Blue","x":205.5,"y":0.003},{"p":6,"c":"Blue","x":207,"y":0.001},{"p":6,"c":"Blue","x":220,"y":0.0005},{"p":6,"c":"Blue","x":235,"y":0.0008},{"p":6,"c":"Blue","x":242,"y":0.001},{"p":6,"c":"Blue","x":250,"y":0.0005},{"p":6,"c":"Blue","x":255,"y":0}
]},
"spacing":22,
"resolve":{"scale":{"color":"independent"},"legend":{"color":"independent"}},
"vconcat":[
{"spacing":31,"resolve":{"scale":{"color":"independent"},"legend":{"color":"independent"}},"hconcat":[
{"width":173,"height":128,"transform":[{"filter":"datum.p==1"}],
"encoding":{"x":{"field":"x","type":"quantitative","scale":{"domain":[-12.75,267.75],"nice":false,"zero":false},"axis":{"values":[0,50,100,150,200,250],"title":"Intensity"}},"y":{"field":"y","type":"quantitative","stack":null,"scale":{"domain":[0,0.06],"nice":false},"axis":{"values":[0,0.01,0.02,0.03,0.04,0.05,0.06],"format":".2f","title":"Frequency"}},"color":{"field":"c","type":"nominal","scale":{"domain":["Red","Green","Blue"],"range":["#ff0000","#008000","#0000ff"]},"legend":{"title":null}}},
"layer":[{"transform":[{"filter":"datum.c=='Red'"}],"mark":{"type":"area","opacity":0.5,"clip":true}},{"transform":[{"filter":"datum.c=='Green'"}],"mark":{"type":"area","opacity":0.5,"clip":true}},{"transform":[{"filter":"datum.c=='Blue'"}],"mark":{"type":"area","opacity":0.5,"clip":true}}]},
{"width":173,"height":128,"transform":[{"filter":"datum.p==2"}],
"encoding":{"x":{"field":"x","type":"quantitative","scale":{"domain":[-12.75,267.75],"nice":false,"zero":false},"axis":{"values":[0,50,100,150,200,250],"title":"Intensity"}},"y":{"field":"y","type":"quantitative","stack":null,"scale":{"domain":[0,0.06],"nice":false},"axis":{"values":[0,0.01,0.02,0.03,0.04,0.05,0.06],"format":".2f","title":"Frequency"}},"color":{"field":"c","type":"nominal","scale":{"domain":["Red","Green","Blue"],"range":["#ff0000","#008000","#0000ff"]},"legend":{"title":null}}},
"layer":[{"transform":[{"filter":"datum.c=='Red'"}],"mark":{"type":"area","opacity":0.5,"clip":true}},{"transform":[{"filter":"datum.c=='Green'"}],"mark":{"type":"area","opacity":0.5,"clip":true}},{"transform":[{"filter":"datum.c=='Blue'"}],"mark":{"type":"area","opacity":0.5,"clip":true}}]},
{"width":173,"height":128,"transform":[{"filter":"datum.p==3"}],
"encoding":{"x":{"field":"x","type":"quantitative","scale":{"domain":[-12.75,267.75],"nice":false,"zero":false},"axis":{"values":[0,50,100,150,200,250],"title":"Intensity"}},"y":{"field":"y","type":"quantitative","stack":null,"scale":{"domain":[0,0.06],"nice":false},"axis":{"values":[0,0.01,0.02,0.03,0.04,0.05,0.06],"format":".2f","title":"Frequency"}},"color":{"field":"c","type":"nominal","scale":{"domain":["Red","Green","Blue"],"range":["#ff0000","#008000","#0000ff"]},"legend":{"title":null}}},
"layer":[{"transform":[{"filter":"datum.c=='Red'"}],"mark":{"type":"area","opacity":0.5,"clip":true}},{"transform":[{"filter":"datum.c=='Green'"}],"mark":{"type":"area","opacity":0.5,"clip":true}},{"transform":[{"filter":"datum.c=='Blue'"}],"mark":{"type":"area","opacity":0.5,"clip":true}}]}
]},
{"spacing":31,"resolve":{"scale":{"color":"independent"},"legend":{"color":"independent"}},"hconcat":[
{"width":173,"height":128,"transform":[{"filter":"datum.p==4"}],
"title":{"text":"Source","orient":"bottom","anchor":"middle","frame":"group","fontSize":19,"fontWeight":"bold","font":"Noto Sans","color":"#000","offset":5},
"encoding":{"x":{"field":"x","type":"quantitative","scale":{"domain":[-12.75,267.75],"nice":false,"zero":false},"axis":{"values":[0,50,100,150,200,250],"title":"Intensity"}},"y":{"field":"y","type":"quantitative","stack":null,"scale":{"domain":[0,0.06],"nice":false},"axis":{"values":[0,0.01,0.02,0.03,0.04,0.05,0.06],"format":".2f","title":"Frequency"}},"color":{"field":"c","type":"nominal","scale":{"domain":["Red","Green","Blue"],"range":["#ff0000","#008000","#0000ff"]},"legend":{"title":null}}},
"layer":[{"transform":[{"filter":"datum.c=='Red'"}],"mark":{"type":"area","opacity":0.5,"clip":true}},{"transform":[{"filter":"datum.c=='Green'"}],"mark":{"type":"area","opacity":0.5,"clip":true}},{"transform":[{"filter":"datum.c=='Blue'"}],"mark":{"type":"area","opacity":0.5,"clip":true}}]},
{"width":173,"height":128,"transform":[{"filter":"datum.p==5"}],
"title":{"text":"AttentionGAN","orient":"bottom","anchor":"middle","frame":"group","fontSize":19,"fontWeight":"bold","font":"Noto Sans","color":"#000","offset":5},
"encoding":{"x":{"field":"x","type":"quantitative","scale":{"domain":[-12.75,267.75],"nice":false,"zero":false},"axis":{"values":[0,50,100,150,200,250],"title":"Intensity"}},"y":{"field":"y","type":"quantitative","stack":null,"scale":{"domain":[0,0.06],"nice":false},"axis":{"values":[0,0.01,0.02,0.03,0.04,0.05,0.06],"format":".2f","title":"Frequency"}},"color":{"field":"c","type":"nominal","scale":{"domain":["Red","Green","Blue"],"range":["#ff0000","#008000","#0000ff"]},"legend":{"title":null}}},
"layer":[{"transform":[{"filter":"datum.c=='Red'"}],"mark":{"type":"area","opacity":0.5,"clip":true}},{"transform":[{"filter":"datum.c=='Green'"}],"mark":{"type":"area","opacity":0.5,"clip":true}},{"transform":[{"filter":"datum.c=='Blue'"}],"mark":{"type":"area","opacity":0.5,"clip":true}}]},
{"width":173,"height":128,"transform":[{"filter":"datum.p==6"}],
"title":{"text":"Our","orient":"bottom","anchor":"middle","frame":"group","fontSize":19,"fontWeight":"bold","font":"Noto Sans","color":"#000","offset":5},
"encoding":{"x":{"field":"x","type":"quantitative","scale":{"domain":[-12.75,267.75],"nice":false,"zero":false},"axis":{"values":[0,50,100,150,200,250],"title":"Intensity"}},"y":{"field":"y","type":"quantitative","stack":null,"scale":{"domain":[0,0.06],"nice":false},"axis":{"values":[0,0.01,0.02,0.03,0.04,0.05,0.06],"format":".2f","title":"Frequency"}},"color":{"field":"c","type":"nominal","scale":{"domain":["Red","Green","Blue"],"range":["#ff0000","#008000","#0000ff"]},"legend":{"title":null}}},
"layer":[{"transform":[{"filter":"datum.c=='Red'"}],"mark":{"type":"area","opacity":0.5,"clip":true}},{"transform":[{"filter":"datum.c=='Green'"}],"mark":{"type":"area","opacity":0.5,"clip":true}},{"transform":[{"filter":"datum.c=='Blue'"}],"mark":{"type":"area","opacity":0.5,"clip":true}}]}
]}
],
"config":{
"view":{"stroke":"#888","strokeWidth":0.8},
"axis":{"grid":false,"domain":false,"tickSize":2.5,"tickWidth":0.6,"tickColor":"#333","labelFontSize":4.5,"labelColor":"#333","labelPadding":1,"labelFont":"DejaVu Sans","titleFont":"DejaVu Sans","titleFontSize":4.8,"titleFontWeight":"normal","titleColor":"#333","titlePadding":2},
"axisY":{"minExtent":14,"maxExtent":14},
"legend":{"orient":"top-right","offset":3,"padding":2,"rowPadding":0,"labelFontSize":5,"labelFont":"DejaVu Sans","labelColor":"#333","labelOffset":4,"symbolType":"M-1,-0.5H1V0.5H-1Z","symbolSize":49,"symbolOpacity":0.5,"symbolStrokeWidth":0,"strokeColor":"#ccc","fillColor":"#fff","cornerRadius":2}
}
}
